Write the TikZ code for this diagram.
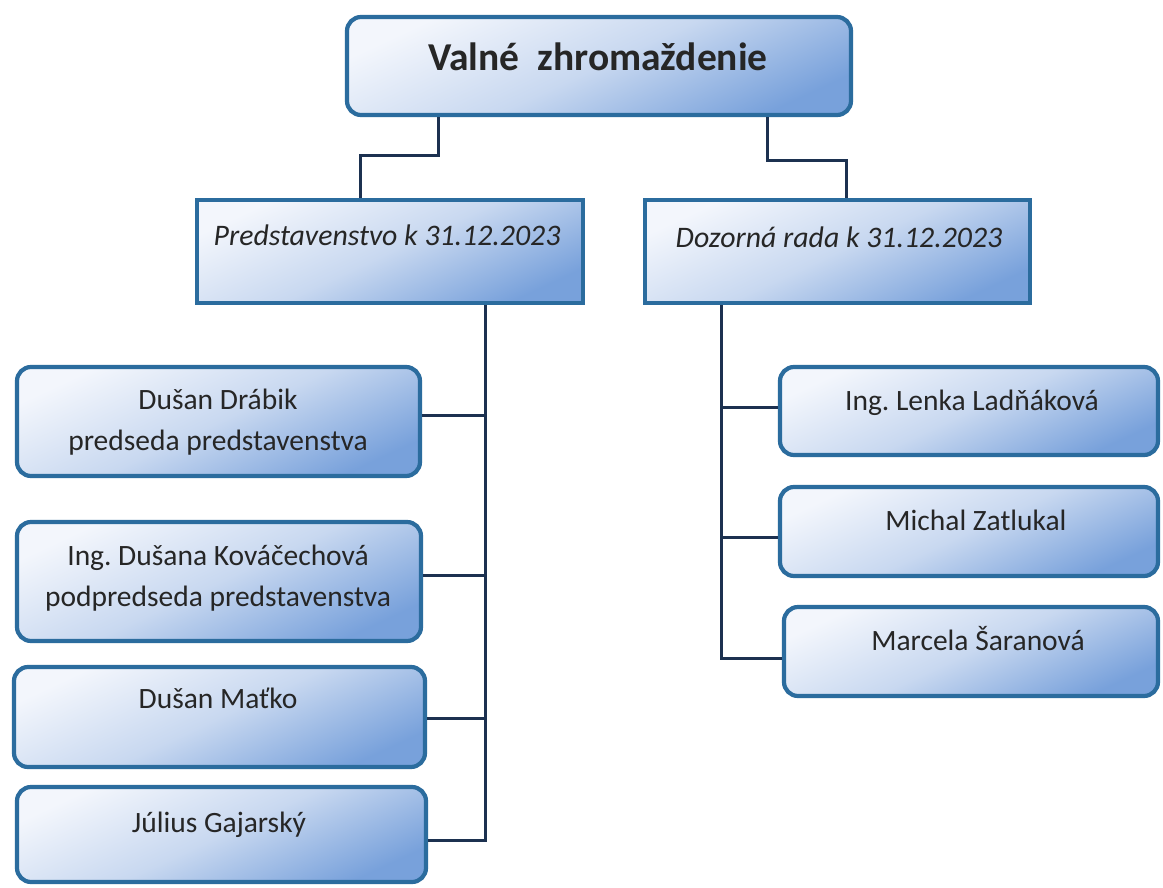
\documentclass[tikz,border=0pt]{standalone}
\usepackage{fontspec}
\setmainfont{Carlito}
\frenchspacing
\definecolor{boxlight}{HTML}{F3F6FC}
\definecolor{boxmid}{HTML}{C8D8F0}
\definecolor{boxdark}{HTML}{78A1DB}
\definecolor{boxborder}{HTML}{2B6C9E}
\definecolor{connline}{HTML}{1C3150}
\definecolor{txt}{HTML}{262626}
\tikzset{
  boxbase/.style={draw=boxborder, line width=4.2pt, top color=boxlight, bottom color=boxdark, middle color=boxmid, shading angle=25, inner sep=0pt},
  roundbox/.style={boxbase, rounded corners=14pt},
  rectbox/.style={boxbase},
  conn/.style={draw=connline, line width=3pt},
  nametext/.style={anchor=base, text=txt, align=center, font=\fontsize{29.5}{41}\selectfont},
  headtext/.style={anchor=base, text=txt, font=\itshape\fontsize{29.8}{36}\selectfont},
  titletext/.style={anchor=base, text=txt, font=\bfseries\fontsize{39.5}{46}\selectfont}
}
\begin{document}
\begin{tikzpicture}[x=1pt,y=-1pt]
\useasboundingbox[fill=white] (0,0) rectangle (1163,887);
% boxes
\node[roundbox, minimum width=504pt, minimum height=98pt] (vz) at (599,66) {};
\node[rectbox, minimum width=386pt, minimum height=103pt] (pr) at (390,251.5) {};
\node[rectbox, minimum width=385pt, minimum height=103pt] (dr) at (837.5,251.5) {};
\node[roundbox, minimum width=403pt, minimum height=109pt] (b1) at (218.5,421.5) {};
\node[roundbox, minimum width=404pt, minimum height=119pt] (b2) at (219,581.5) {};
\node[roundbox, minimum width=411pt, minimum height=100pt] (b3) at (219.5,717) {};
\node[roundbox, minimum width=409pt, minimum height=95pt] (b4) at (221.5,834.5) {};
\node[roundbox, minimum width=378pt, minimum height=88pt] (r1) at (969,411) {};
\node[roundbox, minimum width=378pt, minimum height=89pt] (r2) at (969,531.5) {};
\node[roundbox, minimum width=374pt, minimum height=89pt] (r3) at (971,651.5) {};
% texts
\node[titletext] (tvz) at (598,70) {Valné\hspace{0.45em}zhromaždenie};
\node[headtext] (tpr) at (387,245) {Predstavenstvo k 31.12.2023};
\node[headtext] (tdr) at (839,247) {Dozorná rada k 31.12.2023};
\node[nametext] (tb1) at (218,450) {Dušan Drábik\\predseda predstavenstva};
\node[nametext] (tb2) at (218,606) {Ing. Dušana Kováčechová\\podpredseda predstavenstva};
\node[nametext] (tb3) at (218,708) {Dušan Maťko};
\node[nametext] (tb4) at (219,832) {Július Gajarský};
\node[nametext] (tr1) at (972,410) {Ing. Lenka Ladňáková};
\node[nametext] (tr2) at (976,530) {Michal Zatlukal};
\node[nametext] (tr3) at (978,650) {Marcela Šaranová};
% connectors top
\draw[conn] ([xshift=-161pt]vz.south) -- ++(0,38) -| ([xshift=-30pt]pr.north);
\draw[conn] ([xshift=168pt]vz.south) -- ++(0,43) -| ([xshift=8.5pt]dr.north);
% left tree
\coordinate (pt) at ([xshift=95pt]pr.south);
\draw[conn] (pt) |- ([yshift=6.5pt]b1.east);
\draw[conn] (pt) |- ([yshift=6.5pt]b2.east);
\draw[conn] (pt) |- ([yshift=-1pt]b3.east);
\draw[conn] (pt) |- ([yshift=-5.5pt]b4.east);
% right tree
\coordinate (qt) at ([xshift=-116.5pt]dr.south);
\draw[conn] (qt) |- ([yshift=4pt]r1.west);
\draw[conn] (qt) |- ([yshift=-5.5pt]r2.west);
\draw[conn] (qt) |- ([yshift=-6.5pt]r3.west);
\end{tikzpicture}
\end{document}
